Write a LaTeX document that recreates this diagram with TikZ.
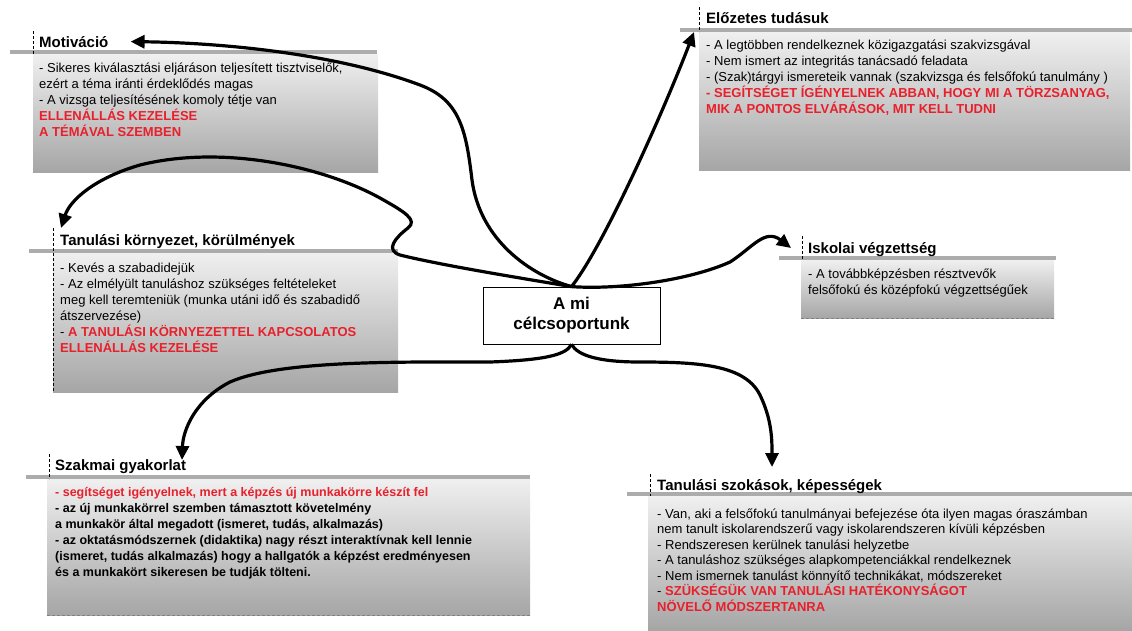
\documentclass[tikz,border=0pt]{standalone}
\usepackage{fontspec}
\setmainfont{Liberation Sans}
\usetikzlibrary{arrows.meta}
\definecolor{alarm}{RGB}{232,32,44}
\newcommand\redtxt[1]{\textcolor{alarm}{\bfseries #1}}
\newcommand\firstline{\rule{0pt}{12.5pt}}

\begin{document}
\begin{tikzpicture}[
  x = 1pt, y = -1pt,
  head/.style={anchor=base west, inner sep=0pt, font=\bfseries\fontsize{15}{18}\selectfont},
  lines/.style={anchor=north west, inner sep=0pt, align=left, font=\fontsize{13}{16}\selectfont},
  bar/.style={fill=gray!65},
  panel/.style={top color=gray!12, bottom color=gray!70},
  tick/.style={densely dashed, line width=0.6pt},
  arrow/.style={line width=3.2pt, -{Triangle[length=14pt,width=13pt]}}]
\useasboundingbox (0,0) rectangle (1132,630);

\shade[panel] (33,54) rectangle (378,172);
\fill[bar] (10,50) rectangle (377,54);
\draw[tick] (33,31) -- (33,54);
\node[head] (mot) at (39,47) {Motiváció};
\node[lines] (motx) at (39,59.5) {\firstline- Sikeres kiválasztási eljáráson teljesített tisztviselők,\\
ezért a téma iránti érdeklődés magas\\
- A vizsga teljesítésének komoly tétje van\\
\redtxt{ELLENÁLLÁS KEZELÉSE}\\
\redtxt{A TÉMÁVAL SZEMBEN}};

\shade[panel] (699,32) rectangle (1130,170);
\fill[bar] (680,28) rectangle (1132,32);
\draw[tick] (699,7) -- (699,32);
\node[head] (elo) at (706,23) {Előzetes tudásuk};
\node[lines] (elox) at (706,36.5) {\firstline- A legtöbben rendelkeznek közigazgatási szakvizsgával\\
- Nem ismert az integritás tanácsadó feladata\\
- (Szak)tárgyi ismereteik vannak (szakvizsga és felsőfokú tanulmány )\\
\redtxt{- SEGÍTSÉGET ÍGÉNYELNEK ABBAN, HOGY MI A TÖRZSANYAG,}\\
\redtxt{MIK A PONTOS ELVÁRÁSOK, MIT KELL TUDNI}};

\shade[panel] (53,253) rectangle (398,392);
\fill[bar] (29,249) rectangle (398,253);
\draw[tick] (53,228) -- (53,392);
\node[head] (kor) at (60,245) {Tanulási környezet, körülmények};
\node[lines] (korx) at (60,259.5) {\firstline- Kevés a szabadidejük\\
- Az elmélyült tanuláshoz szükséges feltételeket\\
meg kell teremteniük (munka utáni idő és szabadidő\\
átszervezése)\\
- \redtxt{A TANULÁSI KÖRNYEZETTEL KAPCSOLATOS}\\
\redtxt{ELLENÁLLÁS KEZELÉSE}};

\shade[panel] (801,260) rectangle (1054,318);
\fill[bar] (779,256) rectangle (1056,260);
\draw[tick] (802,236) -- (802,260);
\draw[tick, gray] (801,318) -- (1054,318);
\node[head] (isk) at (808,253) {Iskolai végzettség};
\node[lines] (iskx) at (808,265.5) {\firstline- A továbbképzésben résztvevők\\
felsőfokú és középfokú végzettségűek};

\shade[panel] (47,479) rectangle (530,615);
\fill[bar] (26,475) rectangle (530,479);
\draw[tick] (49,454) -- (49,479);
\draw[tick, gray] (47,615) -- (530,615);
\node[head] (szak) at (55,470) {Szakmai gyakorlat};
\node[lines, font=\bfseries\fontsize{12.5}{16}\selectfont] (szakx) at (55,483.5) {\firstline\textcolor{alarm}{- segítséget igényelnek, mert a képzés új munkakörre készít fel}\\
- az új munkakörrel szemben támasztott követelmény\\
a munkakör által megadott (ismeret, tudás, alkalmazás)\\
- az oktatásmódszernek (didaktika) nagy részt interaktívnak kell lennie\\
(ismeret, tudás alkalmazás) hogy a hallgatók a képzést eredményesen\\
és a munkakört sikeresen be tudják tölteni.};

\shade[panel] (648,496) rectangle (1132,630);
\fill[bar] (627,492) rectangle (1132,496);
\draw[tick] (650,474) -- (650,496);
\node[head] (szok) at (657,490) {Tanulási szokások, képességek};
\node[lines, font=\fontsize{13}{15.5}\selectfont] (szokx) at (657,505.5) {\firstline- Van, aki a felsőfokú tanulmányai befejezése óta ilyen magas óraszámban\\
nem tanult iskolarendszerű vagy iskolarendszeren kívüli képzésben\\
- Rendszeresen kerülnek tanulási helyzetbe\\
- A tanuláshoz szükséges alapkompetenciákkal rendelkeznek\\
- Nem ismernek tanulást könnyítő technikákat, módszereket\\
- \redtxt{SZÜKSÉGÜK VAN TANULÁSI HATÉKONYSÁGOT}\\
\redtxt{NÖVELŐ MÓDSZERTANRA}};

\node[draw, fill=white, line width=0.8pt, minimum width=177pt, minimum height=57pt,
  align=center, font=\bfseries\fontsize{17}{20}\selectfont] (cel) at (571.5,315.5) {A mi\\célcsoportunk};

\coordinate (motin) at ([xshift=22]mot.east);
\coordinate (eloin) at ([shift={(-12,9)}]elo.base west);
\coordinate (korin) at ([shift={(1,-17)}]kor.base west);
\coordinate (iskin) at ([shift={(-17,-5)}]isk.base west);
\coordinate (szakin) at ([shift={(127,-10)}]szak.base west);
\coordinate (szokin) at ([shift={(115,-23)}]szok.base west);

\draw[arrow] (cel.north) .. controls (530,275) and (480,240) .. (472,180)
  .. controls (466,130) and (460,100) .. (420,85)
  .. controls (340,55) and (230,43) .. (motin);
\draw[arrow] (cel.north) .. controls (603,247) and (662,115) .. (eloin);
\draw[arrow] (cel.north) .. controls (520,278) and (440,265) .. (400,255)
  .. controls (385,250) and (395,238) .. (408,228)
  .. controls (418,220) and (405,212) .. (380,198)
  .. controls (320,165) and (220,145) .. (140,165)
  .. controls (95,178) and (70,200) .. (korin);
\draw[arrow] (cel.north) .. controls (620,290) and (690,280) .. (730,262)
  .. controls (752,248) and (765,228) .. (iskin);
\draw[arrow] (cel.south) .. controls (566,355) and (545,360) .. (490,362)
  .. controls (400,362) and (280,360) .. (230,382)
  .. controls (195,400) and (183,430) .. (szakin);
\draw[arrow] (cel.south) .. controls (578,356) and (600,362) .. (640,362)
  .. controls (700,362) and (745,365) .. (760,395)
  .. controls (772,420) and (772,440) .. (szokin);
\end{tikzpicture}
\end{document}
